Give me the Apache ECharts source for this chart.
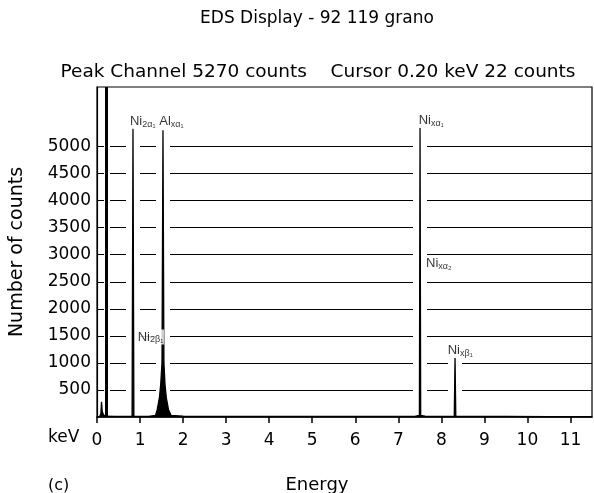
<!DOCTYPE html>
<html>
<head>
<meta charset="utf-8">
<script src="https://cdn.jsdelivr.net/npm/echarts@6/dist/echarts.min.js"></script>
<style>
  html, body { margin: 0; padding: 0; background: #fff; }
  #main { width: 594px; height: 493px; }
</style>
</head>
<body>
<div id="main"></div>
<script>
// spectrum (keV, counts)
var energy = [0.00, 0.06, 0.09, 0.105, 0.12, 0.15, 0.20, 0.40, 0.70, 0.815, 0.836, 0.857, 1.00, 1.20,
  1.36, 1.40, 1.45, 1.48, 1.51, 1.533, 1.555, 1.58, 1.61, 1.66, 1.72, 2.00, 3.00, 4.00, 5.00, 6.00,
  7.00, 7.40, 7.49, 7.505, 7.52, 7.62, 8.00, 8.30, 8.318, 8.336, 8.60, 9.50, 10.50, 11.50];
var counts = [0, 10, 60, 280, 110, 40, 15, 12, 10, 12, 5340, 12, 10, 12,
  30, 140, 360, 600, 1000, 5300, 1000, 600, 360, 140, 30, 15, 12, 12, 10, 10,
  12, 15, 30, 5350, 30, 15, 12, 12, 1090, 12, 10, 10, 8, 8];

var cursorKeV = 0.22;
var yTicks = [500, 1000, 1500, 2000, 2500, 3000, 3500, 4000, 4500, 5000];

// peak labels
var labelMain = ['Ni', 'Al', 'Ni', 'Ni', 'Ni', 'Ni'];
var labelSub = ['2α₁', 'xα₁', 'xα₁', 'xα₂', '2β₁', 'xβ₁'];
var labelKeV = [0.743, 1.424, 7.45, 7.62, 0.922, 8.125];
var labelCounts = [5460, 5470, 5480, 2836, 1479, 1234];

var FONT = 'Liberation Sans, Arial, sans-serif';
var WIDE = 'DejaVu Sans, sans-serif';

var chartDom = document.getElementById('main');
var myChart = echarts.init(chartDom);
var option;

var spectrum = energy.map(function (e, i) { return [e, counts[i]]; });

// white gaps around the tall peaks
var halos = [];
for (var i = 1; i < counts.length - 1; i++) {
  if (counts[i] > 1000 && counts[i] > counts[i - 1] && counts[i] > counts[i + 1]) {
    halos.push({ coords: [[energy[i], 0], [energy[i], counts[i]]] });
  }
}

var labels = labelMain.map(function (m, i) {
  return { value: [labelKeV[i], labelCounts[i]], main: m, sub: labelSub[i] };
});

option = {
  animation: false,
  backgroundColor: '#fff',
  textStyle: { fontFamily: WIDE },
  grid: {
    left: 97, right: 2, top: 87, bottom: 76,
    show: true, borderColor: '#000', borderWidth: 1.2
  },
  graphic: [
    { type: 'text', x: 317, y: 10,
      style: { text: 'EDS Display - 92 119 grano', font: '17px ' + WIDE, fill: '#000', textAlign: 'center' } },
    { type: 'text', x: 318, y: 63,
      style: { text: 'Peak Channel 5270 counts    Cursor 0.20 keV 22 counts', font: '18.5px ' + WIDE,
               fill: '#000', textAlign: 'center' } },
    { type: 'text', x: 48, y: 429,
      style: { text: 'keV', font: '17px ' + WIDE, fill: '#000' } },
    { type: 'text', x: 48, y: 478,
      style: { text: '(c)', font: '16px ' + WIDE, fill: '#000' } },
    { type: 'text', x: 317, y: 476,
      style: { text: 'Energy', font: '18px ' + WIDE, fill: '#000', textAlign: 'center' } }
  ],
  xAxis: {
    type: 'value', min: 0, max: 11.5, interval: 1, z: 3,
    axisLine: { lineStyle: { color: '#000', width: 1.5 } },
    axisTick: { show: true, length: 6, lineStyle: { color: '#000', width: 1.5 } },
    axisLabel: { color: '#000', fontSize: 17, margin: 15, fontFamily: WIDE },
    splitLine: { show: false }
  },
  yAxis: {
    type: 'value', min: 0, max: 6100, interval: 500,
    name: 'Number of counts', nameLocation: 'middle', nameRotate: 90, nameGap: 70,
    nameTextStyle: { color: '#000', fontSize: 19, fontFamily: WIDE },
    axisLine: { show: true, lineStyle: { color: '#000', width: 1.2 } },
    axisTick: { show: false, customValues: yTicks },
    axisLabel: {
      color: '#000', fontSize: 17, margin: 6, fontFamily: WIDE, customValues: yTicks,
      formatter: function (v) { return String(v); }
    },
    splitLine: { show: true, lineStyle: { color: '#000', width: 1.2 } }
  },
  series: [
    {
      name: 'gap', type: 'lines', coordinateSystem: 'cartesian2d', z: 1,
      silent: true,
      lineStyle: { color: '#fff', width: 14, opacity: 1 },
      data: halos.concat([{ coords: [[cursorKeV, 0], [cursorKeV, 5200]], lineStyle: { width: 6 } }])
    },
    {
      name: 'cursor', type: 'lines', coordinateSystem: 'cartesian2d', z: 2,
      silent: true,
      lineStyle: { color: '#000', width: 3, opacity: 1 },
      data: [{ coords: [[cursorKeV, 0], [cursorKeV, 6100]] }]
    },
    {
      name: 'Counts', type: 'line', z: 2,
      symbol: 'none',
      lineStyle: { color: '#000', width: 1.3 },
      areaStyle: { color: '#000', opacity: 1 },
      data: spectrum
    },
    {
      name: 'labels', type: 'scatter', z: 4,
      symbolSize: 0,
      label: {
        show: true, position: 'right', distance: 0,
        backgroundColor: '#fff', padding: [0, 1],
        formatter: function (p) {
          return '{m|' + p.data.main + '}{s|' + p.data.sub + '}';
        },
        rich: {
          m: { fontSize: 13, color: '#000', fontFamily: FONT, lineHeight: 15 },
          s: { fontSize: 9, color: '#000', fontFamily: FONT, lineHeight: 15, verticalAlign: 'bottom' }
        }
      },
      data: labels
    }
  ]
};

option && myChart.setOption(option);
</script>
</body>
</html>
